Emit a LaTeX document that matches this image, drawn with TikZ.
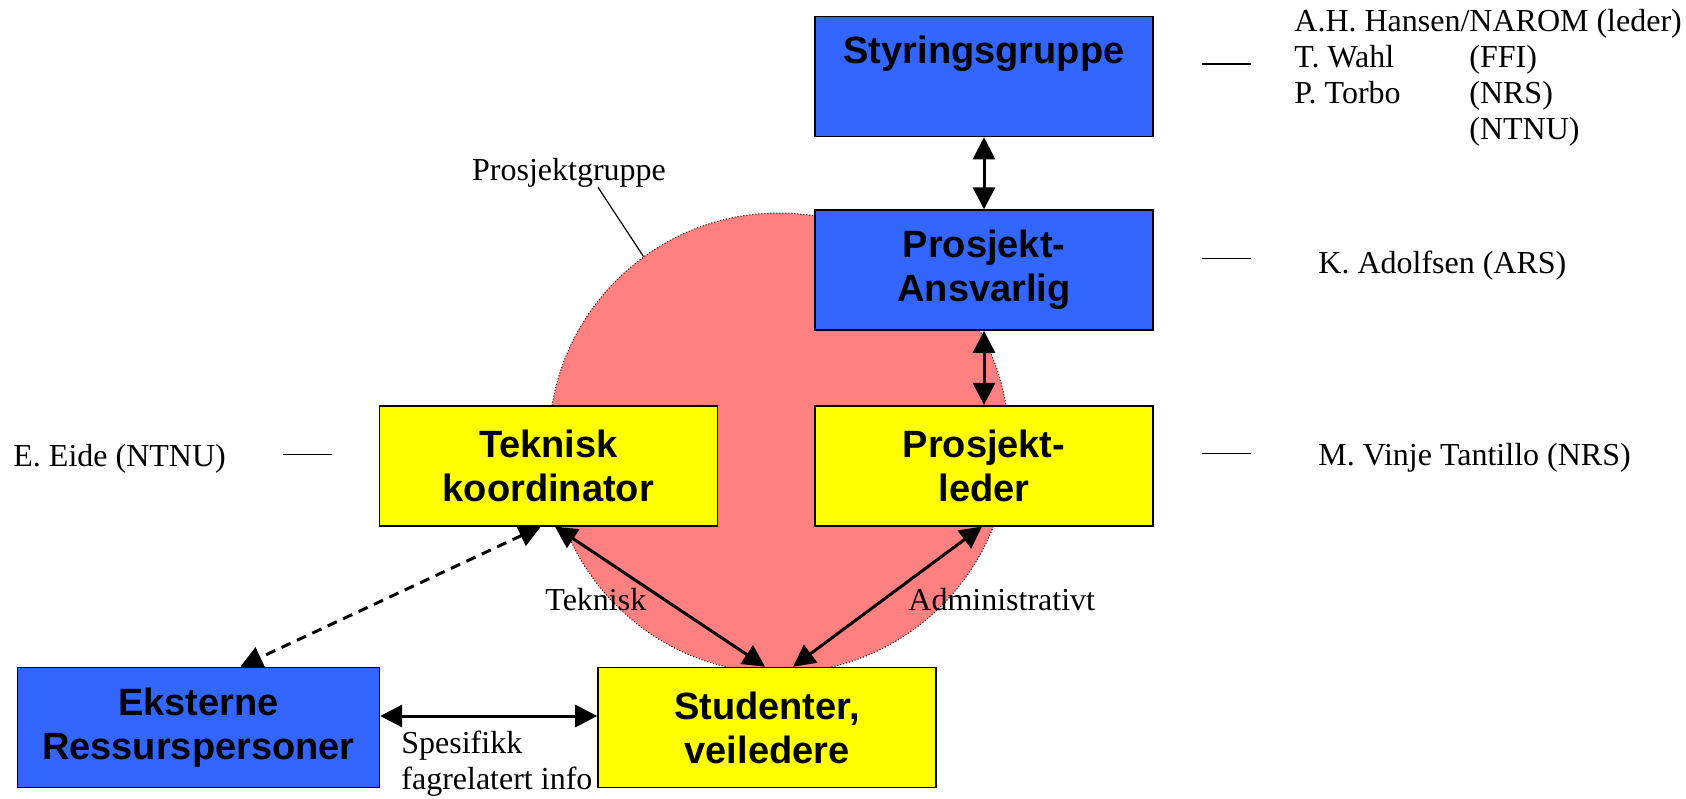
\documentclass[tikz,border=0pt]{standalone}
\usepackage{fontspec}
\setmainfont{Liberation Serif}
\setsansfont{Liberation Sans}
\usetikzlibrary{arrows.meta, positioning}
\definecolor{orgblue}{RGB}{51,102,255}
\definecolor{orgyellow}{RGB}{255,255,0}
\definecolor{grpred}{RGB}{255,128,128}

\begin{document}
\begin{tikzpicture}[
    x=0.5pt, y=-0.5pt,
    >={Triangle[length=11pt, width=11pt]},
    node distance=36pt,
    orgbox/.style={draw, line width=0.8pt, minimum width=169pt,
                   minimum height=60pt, inner sep=0pt, align=center,
                   font=\fontsize{19}{22}\selectfont\sffamily\bfseries},
    lbl/.style={inner sep=0pt, font=\fontsize{16}{18}\selectfont},
    link/.style={<->, line width=1.5pt},
    tick/.style={line width=0.7pt}
  ]
  \useasboundingbox (0,0) rectangle (1686,798);

  % project group behind the boxes
  \node[circle, draw, densely dotted, line width=0.5pt, fill=grpred,
        minimum size=230pt, inner sep=0pt] (grp) at (779,443) {};

  \node[orgbox, fill=orgblue, text height=14pt, text depth=27pt,
        inner ysep=9.5pt] (styr) at (984,76.5) {Styringsgruppe};
  \node[orgbox, fill=orgblue, below=of styr] (ansv) {Prosjekt-\\Ansvarlig};
  \node[orgbox, fill=orgyellow, below=37pt of ansv] (pleder)
    {Prosjekt-\\leder};
  \node[orgbox, fill=orgyellow, left=48pt of pleder] (tekn)
    {Teknisk\\koordinator};
  \node[orgbox, fill=orgyellow] (stud) at (767,727.5) {Studenter,\\veiledere};
  \node[orgbox, fill=orgblue, minimum width=181pt, left=108.5pt of stud]
    (ekst) {Eksterne\\Ressurspersoner};

  \draw[link] (styr) -- (ansv);
  \draw[link] (ansv) -- (pleder);
  \draw[link] ([xshift=3.25pt]tekn.south) -- ([xshift=-1pt]stud.north);
  \draw[link] ([xshift=-1pt]pleder.south) -- ([xshift=13pt]stud.north);
  \draw[link, dash pattern=on 5pt off 3.5pt] ([xshift=-3.75pt]tekn.south)
    -- ([xshift=21pt]ekst.north);
  \draw[link] ([yshift=5.75pt]ekst.east) -- ([yshift=5.75pt]stud.west);

  % labels
  \node[lbl, anchor=base] (pgrp) at (569,180) {Prosjektgruppe};
  \draw[line width=0.6pt] ([xshift=14.5pt]pgrp.south) -- (grp.126);
  \node[lbl, anchor=base west] (ltek) at (545,610) {Teknisk};
  \node[lbl, anchor=base west] (ladm) at (908,610) {Administrativt};
  \node[lbl, anchor=north west, align=left] (lspes) at (401,731)
    {Spesifikk\\fagrelatert info};

  % names
  \node[lbl, anchor=north west, align=left] (styrnames) at (1294,9)
    {A.H. Hansen/NAROM (leder)\\
     \makebox[87.5pt][l]{T. Wahl}(FFI)\\
     \makebox[87.5pt][l]{P. Torbo}(NRS)\\
     \makebox[87.5pt][l]{}(NTNU)};
  \node[lbl, anchor=base west] (ansvname) at (1318,273) {K. Adolfsen (ARS)};
  \node[lbl, anchor=base west] (ledname) at (1318,465)
    {M. Vinje Tantillo (NRS)};
  \node[lbl, anchor=base west] (tekname) at (13,466) {E. Eide (NTNU)};

  \draw[tick] ([shift={(24pt,6.25pt)}]styr.east) -- ++(24.5pt,0pt);
  \draw[tick] ([shift={(24pt,5.75pt)}]ansv.east) -- ++(24.5pt,0pt);
  \draw[tick] ([shift={(24pt,6.25pt)}]pleder.east) -- ++(24.5pt,0pt);
  \draw[tick] ([shift={(-48pt,5.75pt)}]tekn.west) -- ++(24.5pt,0pt);
\end{tikzpicture}
\end{document}
